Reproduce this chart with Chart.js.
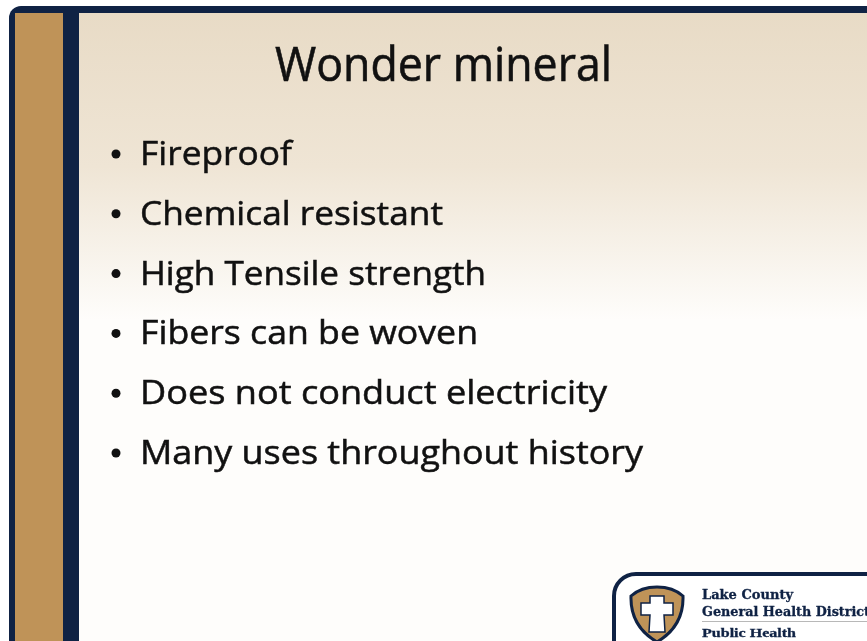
<!DOCTYPE html>
<html>
<head>
<meta charset="utf-8">
<script src="https://cdn.jsdelivr.net/npm/chart.js@4/dist/chart.umd.min.js"></script>
<style>
  html, body { margin: 0; padding: 0; background: #ffffff; }
  #slide { display: block; }
</style>
</head>
<body>
<canvas id="slide" width="867" height="641"></canvas>
<script>
// Slide content
const titleText = 'Wonder mineral';
const bullets = [
  'Fireproof',
  'Chemical resistant',
  'High Tensile strength',
  'Fibers can be woven',
  'Does not conduct electricity',
  'Many uses throughout history'
];
// right edge of each bullet line as seen on the slide
const bulletEnds = [292, 443, 486, 478, 607, 643];
const logoLines = ['Lake County', 'General Health District', 'Public Health'];

const NAVY = '#0f2244';
const GOLD = '#bf9358';

function drawText(ctx, text, x, y, font, targetW, stroke) {
  ctx.save();
  ctx.font = font;
  const w = ctx.measureText(text).width;
  const sx = targetW ? targetW / w : 1;
  ctx.translate(x, y);
  ctx.scale(sx, 1);
  ctx.fillText(text, 0, 0);
  if (stroke) {
    ctx.lineWidth = stroke;
    ctx.strokeStyle = ctx.fillStyle;
    ctx.strokeText(text, 0, 0);
  }
  ctx.restore();
}

const slidePlugin = {
  id: 'slide',
  beforeDraw(chart) {
    const ctx = chart.ctx;
    const W = chart.width, H = chart.height;
    ctx.save();
    ctx.fillStyle = '#ffffff';
    ctx.fillRect(0, 0, W, H);

    // outer navy frame, rounded top-left corner
    ctx.fillStyle = NAVY;
    ctx.beginPath();
    ctx.roundRect(9, 6, W + 20, H + 20, 12);
    ctx.fill();

    // gold stripe
    ctx.fillStyle = GOLD;
    ctx.fillRect(15, 13, 48, H);

    // content background
    const g = ctx.createLinearGradient(0, 13, 0, 320);
    g.addColorStop(0, '#e8dbc6');
    g.addColorStop(0.5, '#efe5d5');
    g.addColorStop(1, '#fefdfb');
    ctx.fillStyle = g;
    ctx.fillRect(79, 13, W, H);

    // title
    ctx.fillStyle = '#111111';
    ctx.textBaseline = 'alphabetic';
    drawText(ctx, titleText, 275, 81, '47px "Open Sans"', 612 - 275, 0.6);

    // bullets
    bullets.forEach((b, i) => {
      const base = 165 + i * 59.8;
      ctx.beginPath();
      ctx.arc(116, base - 11, 4.5, 0, Math.PI * 2);
      ctx.fill();
      drawText(ctx, b, 140, base, '33px "Open Sans"', bulletEnds[i] - 140, 0.5);
    });

    // logo box
    ctx.fillStyle = '#ffffff';
    ctx.strokeStyle = NAVY;
    ctx.lineWidth = 4;
    ctx.beginPath();
    ctx.roundRect(614, 574, 300, 120, 22);
    ctx.fill();
    ctx.stroke();

    // shield
    ctx.beginPath();
    ctx.moveTo(657, 587);
    ctx.quadraticCurveTo(673, 587, 683, 596);
    ctx.quadraticCurveTo(684, 626, 657, 642);
    ctx.quadraticCurveTo(630, 626, 631, 596);
    ctx.quadraticCurveTo(641, 587, 657, 587);
    ctx.closePath();
    ctx.fillStyle = GOLD;
    ctx.fill();
    ctx.lineWidth = 3;
    ctx.strokeStyle = NAVY;
    ctx.stroke();
    // cross
    ctx.fillStyle = '#ffffff';
    ctx.lineWidth = 1.5;
    ctx.beginPath();
    ctx.moveTo(650, 596); ctx.lineTo(664, 596); ctx.lineTo(664, 603);
    ctx.lineTo(673, 603); ctx.lineTo(673, 615); ctx.lineTo(664, 615);
    ctx.lineTo(665, 632); ctx.lineTo(649, 632); ctx.lineTo(650, 615);
    ctx.lineTo(641, 615); ctx.lineTo(641, 603); ctx.lineTo(650, 603);
    ctx.closePath();
    ctx.fill();
    ctx.stroke();

    // logo text
    ctx.fillStyle = NAVY;
    drawText(ctx, logoLines[0], 702, 599, 'bold 12px "DejaVu Serif"', 91, 0.3);
    drawText(ctx, logoLines[1], 702, 616, 'bold 12px "DejaVu Serif"', 168, 0.3);
    ctx.fillStyle = '#b8b8b8';
    ctx.fillRect(702, 621, 170, 1);
    ctx.fillStyle = NAVY;
    drawText(ctx, logoLines[2], 702, 637, 'bold 13px "Liberation Serif"', 94, 0.3);
    ctx.restore();
  }
};

new Chart(document.getElementById('slide'), {
  type: 'bar',
  data: { labels: bullets, datasets: [{ data: [] }] },
  options: {
    responsive: false,
    animation: false,
    events: [],
    plugins: { legend: { display: false }, tooltip: { enabled: false } },
    scales: { x: { display: false }, y: { display: false } }
  },
  plugins: [slidePlugin]
});
</script>
</body>
</html>
